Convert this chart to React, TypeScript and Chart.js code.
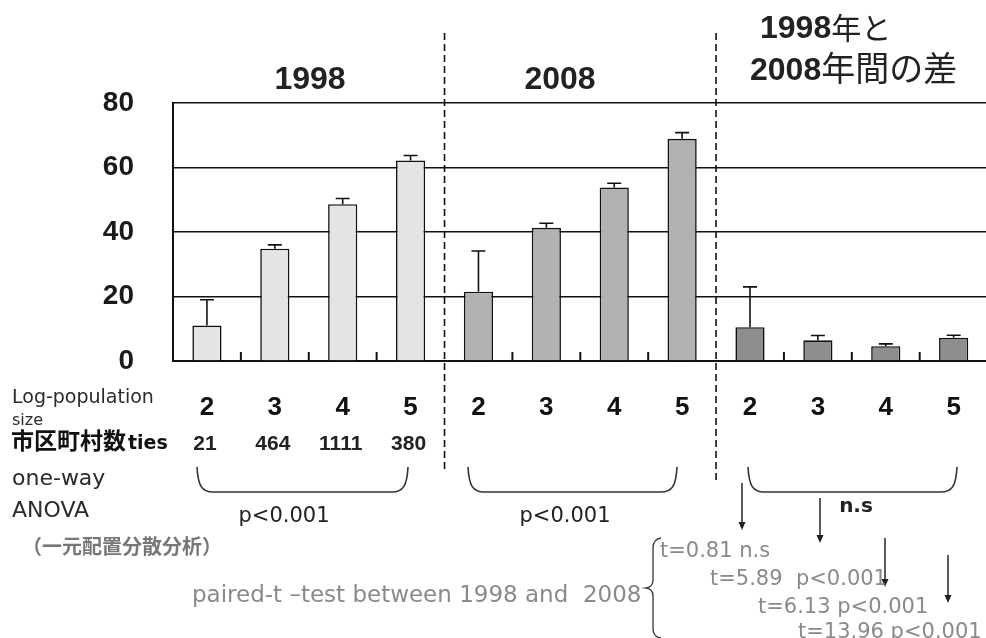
import React, { useEffect, useRef } from "react";
import { Chart, registerables } from "chart.js";

Chart.register(...registerables);

// ---- data ----
const groupTitles = ["1998", "2008"];
const diffTitleLines = [
  ["1998", "年と"],
  ["2008", "年間の差"],
];
const logPopulationSizes = ["2", "3", "4", "5"];
const municipalityCounts = ["21", "464", "1111", "380"];
const mean1998 = [11.0, 34.8, 48.6, 62.2];
const se1998 = [8.0, 1.2, 1.8, 1.5];
const mean2008 = [21.5, 41.3, 53.8, 68.9];
const se2008 = [12.6, 1.4, 1.3, 1.9];
const meanDiff = [10.5, 6.4, 4.6, 7.2];
const seDiff = [12.5, 1.5, 0.7, 0.8];
const anovaResults = ["p<0.001", "p<0.001", "n.s"];
const pairedTResults = ["t=0.81 n.s", "t=5.89  p<0.001", "t=6.13 p<0.001", "t=13.96 p<0.001"];
const rowLabels = ["Log-population", "size", "one-way", "ANOVA"];
const municipalityLabel = ["市区町村数", "ties"];
const anovaJapanese = "（一元配置分散分析）";
const pairedTLabel = "paired-t –test between 1998 and  2008";
const groupColors = ["#e4e4e4", "#b2b2b2", "#8e8e8e"];

const labels = [...logPopulationSizes, ...logPopulationSizes, ...logPopulationSizes];
const values = [...mean1998, ...mean2008, ...meanDiff];
const errors = [...se1998, ...se2008, ...seDiff];
const barColors = [
  ...mean1998.map(() => groupColors[0]),
  ...mean2008.map(() => groupColors[1]),
  ...meanDiff.map(() => groupColors[2]),
];

const LIB = "'Liberation Sans', Arial, sans-serif";
const DJV = "'DejaVu Sans', 'Noto Sans CJK JP', sans-serif";
const CJK = "'Noto Sans CJK JP', sans-serif";

function text(
  ctx: CanvasRenderingContext2D,
  s: string,
  x: number,
  y: number,
  font: string,
  color: string,
  align: CanvasTextAlign = "left"
) {
  ctx.font = font;
  ctx.fillStyle = color;
  ctx.textAlign = align;
  ctx.textBaseline = "alphabetic";
  ctx.fillText(s, x, y);
  return ctx.measureText(s).width;
}

const annotations = {
  id: "annotations",
  afterDatasetsDraw(chart: any) {
    const ctx: CanvasRenderingContext2D = chart.ctx;
    const meta = chart.getDatasetMeta(0);
    const y = chart.scales.y;
    ctx.save();
    ctx.strokeStyle = "#111";
    ctx.lineWidth = 1.6;
    meta.data.forEach((bar: any, i: number) => {
      const top = y.getPixelForValue(values[i] + errors[i]);
      ctx.beginPath();
      ctx.moveTo(bar.x, bar.y);
      ctx.lineTo(bar.x, top);
      ctx.moveTo(bar.x - 7, top);
      ctx.lineTo(bar.x + 7, top);
      ctx.stroke();
    });
    ctx.restore();
  },
  afterDraw(chart: any) {
    const ctx: CanvasRenderingContext2D = chart.ctx;
    const x = chart.scales.x;
    const area = chart.chartArea;
    const boundary = (i: number) => (x.getPixelForValue(i) + x.getPixelForValue(i + 1)) / 2;
    ctx.save();

    // small inner ticks
    ctx.strokeStyle = "#111";
    ctx.lineWidth = 2;
    [0, 1, 2, 4, 5, 6, 8, 9, 10].forEach((i) => {
      const bx = boundary(i);
      ctx.beginPath();
      ctx.moveTo(bx, area.bottom);
      ctx.lineTo(bx, area.bottom - 9);
      ctx.stroke();
    });

    // dashed separators
    ctx.setLineDash([7, 4]);
    ctx.lineWidth = 1.6;
    [
      [3, 473],
      [7, 483],
    ].forEach(([i, yb]) => {
      const bx = boundary(i);
      ctx.beginPath();
      ctx.moveTo(bx, 33);
      ctx.lineTo(bx, yb);
      ctx.stroke();
    });
    ctx.setLineDash([]);

    // group titles
    text(ctx, groupTitles[0], 310, 89, `bold 32px ${LIB}`, "#222", "center");
    text(ctx, groupTitles[1], 560, 89, `bold 32px ${LIB}`, "#222", "center");
    const diffPos = [
      [760, 38, 30],
      [750, 80, 34],
    ];
    diffTitleLines.forEach(([digits, kana], k) => {
      const [tx, ty, fs] = diffPos[k];
      const w = text(ctx, digits, tx, ty, `bold 32px ${LIB}`, "#222");
      text(ctx, kana, tx + w, ty + 1, `${fs}px ${CJK}`, "#222");
    });

    // left row labels
    text(ctx, rowLabels[0], 12, 403, `19px ${DJV}`, "#2a2a2a");
    text(ctx, rowLabels[1], 12, 425, `16px ${DJV}`, "#2a2a2a");
    const w = text(ctx, municipalityLabel[0], 11, 449, `bold 23px ${CJK}`, "#111");
    text(ctx, municipalityLabel[1], 11 + w + 2, 449, `bold 19px ${DJV}`, "#111");
    text(ctx, rowLabels[2], 12, 485, `22px ${DJV}`, "#2a2a2a");
    text(ctx, rowLabels[3], 12, 517, `22px ${DJV}`, "#2a2a2a");
    text(ctx, anovaJapanese, 22, 554, `bold 20px ${CJK}`, "#777");

    // municipality counts
    municipalityCounts.forEach((s, i) => {
      text(ctx, s, x.getPixelForValue(i) - 2, 450, `bold 21px ${LIB}`, "#222", "center");
    });

    // ANOVA braces
    ctx.strokeStyle = "#333";
    ctx.lineWidth = 1.6;
    const spans = [
      [197, 408],
      [468, 677],
      [748, 957],
    ];
    spans.forEach(([x1, x2]) => {
      const t = 467;
      const b = 492;
      ctx.beginPath();
      ctx.moveTo(x1, t);
      ctx.bezierCurveTo(x1 + 1, b - 6, x1 + 5, b, x1 + 16, b);
      ctx.lineTo(x2 - 16, b);
      ctx.bezierCurveTo(x2 - 5, b, x2 - 1, b - 6, x2, t);
      ctx.stroke();
    });
    text(ctx, anovaResults[0], 284, 522, `21px ${DJV}`, "#222", "center");
    text(ctx, anovaResults[1], 565, 522, `21px ${DJV}`, "#222", "center");
    text(ctx, anovaResults[2], 856, 512, `bold 20px ${DJV}`, "#222", "center");

    // arrows
    ctx.fillStyle = "#222";
    [
      [742, 483, 530],
      [820, 498, 543],
      [885, 538, 587],
      [948, 555, 603],
    ].forEach(([ax, y1, y2]) => {
      ctx.beginPath();
      ctx.moveTo(ax, y1);
      ctx.lineTo(ax, y2 - 5);
      ctx.stroke();
      ctx.beginPath();
      ctx.moveTo(ax - 3.5, y2 - 8);
      ctx.lineTo(ax + 3.5, y2 - 8);
      ctx.lineTo(ax, y2);
      ctx.closePath();
      ctx.fill();
    });

    // paired t-test
    text(ctx, pairedTLabel, 192, 602, `23px ${DJV}`, "#8a8a8a");
    ctx.strokeStyle = "#444";
    ctx.lineWidth = 1.4;
    ctx.beginPath();
    ctx.moveTo(661, 538);
    ctx.quadraticCurveTo(653, 539, 653, 548);
    ctx.lineTo(653, 580);
    ctx.quadraticCurveTo(653, 587, 646, 588);
    ctx.quadraticCurveTo(653, 589, 653, 596);
    ctx.lineTo(653, 628);
    ctx.quadraticCurveTo(653, 637, 661, 638);
    ctx.stroke();
    const tPos = [
      [660, 557],
      [710, 585],
      [758, 613],
      [798, 638],
    ];
    pairedTResults.forEach((s, i) => {
      text(ctx, s, tPos[i][0], tPos[i][1], `21px ${DJV}`, "#8a8a8a");
    });

    ctx.restore();
  },
};

export default function App() {
  const ref = useRef<HTMLCanvasElement>(null);
  useEffect(() => {
    const canvas = ref.current!;
    const chart = new Chart(canvas, {
      type: "bar",
      data: {
        labels,
        datasets: [
          {
            data: values,
            backgroundColor: barColors,
            borderColor: "#111",
            borderWidth: 1.6,
            categoryPercentage: 1,
            barPercentage: 0.43,
          },
        ],
      },
      options: {
        responsive: false,
        animation: false,
        layout: { padding: { top: 103, right: 3, left: 0, bottom: 0 } },
        plugins: { legend: { display: false }, tooltip: { enabled: false }, title: { display: false } },
        scales: {
          x: {
            type: "category",
            grid: { display: false, drawTicks: false },
            border: { display: true, color: "#111", width: 2 },
            ticks: {
              color: "#111",
              font: { family: "'Liberation Sans', Arial, sans-serif", size: 26, weight: "bold" },
              padding: 31,
              autoSkip: false,
              maxRotation: 0,
            },
            afterFit: (s: any) => {
              s.height = 277;
            },
          },
          y: {
            min: 0,
            max: 80,
            grid: { color: "#111", lineWidth: 1.5, drawTicks: false },
            border: { display: true, color: "#111", width: 2 },
            ticks: {
              stepSize: 20,
              color: "#1a1a1a",
              font: { family: "'Liberation Sans', Arial, sans-serif", size: 28, weight: "bold" },
              padding: 39,
            },
            afterFit: (s: any) => {
              s.width = 173;
            },
          },
        },
      },
      plugins: [annotations],
    });
    return () => chart.destroy();
  }, []);
  return (
    <div
      style={{
        position: "fixed",
        left: 0,
        top: 0,
        width: 986,
        height: 638,
        overflow: "hidden",
        background: "#fff",
      }}
    >
      <canvas ref={ref} width={992} height={638} style={{ display: "block", width: 992, height: 638 }} />
    </div>
  );
}
